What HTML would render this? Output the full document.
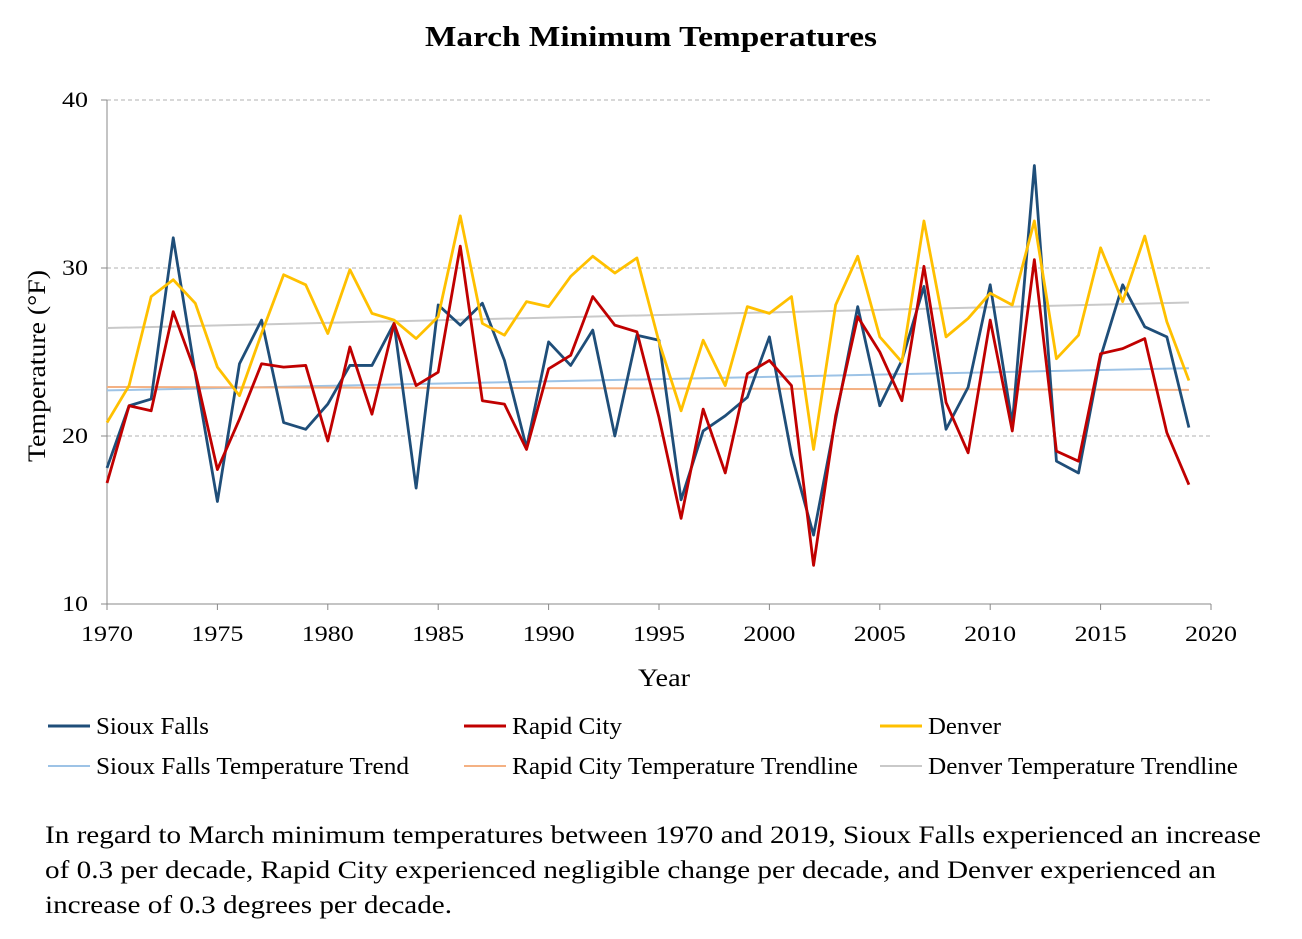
<!DOCTYPE html>
<html><head><meta charset="utf-8"><style>
body{margin:0;background:#fff;width:1302px;height:939px;overflow:hidden;font-family:"Liberation Serif",serif;}
</style></head><body>
<svg id="chart" width="1302" height="939" style="position:absolute;left:0;top:0" font-family="Liberation Serif, serif">
<text x="425" y="46" font-size="29" font-weight="bold" textLength="452" lengthAdjust="spacingAndGlyphs">March Minimum Temperatures</text>
<text transform="translate(45,366) rotate(-90)" text-anchor="middle" font-size="25" textLength="192" lengthAdjust="spacingAndGlyphs">Temperature (°F)</text>
<text x="638" y="686" font-size="25" textLength="52" lengthAdjust="spacingAndGlyphs">Year</text>
<g id="grid"></g><g id="axes"></g><g id="series"></g><g id="legend"></g>
<g font-size="25">
<text x="45" y="843" textLength="1216" lengthAdjust="spacingAndGlyphs">In regard to March minimum temperatures between 1970 and 2019, Sioux Falls experienced an increase</text>
<text x="45" y="878" textLength="1171" lengthAdjust="spacingAndGlyphs">of 0.3 per decade, Rapid City experienced negligible change per decade, and Denver experienced an</text>
<text x="45" y="913" textLength="407" lengthAdjust="spacingAndGlyphs">increase of 0.3 degrees per decade.</text>
</g>
</svg>
<script>
const years=[];for(let y=1970;y<=2019;y++)years.push(y);
const siouxFalls=[18.1,21.8,22.2,31.8,23.7,16.1,24.3,26.9,20.8,20.4,21.9,24.2,24.2,26.7,16.9,27.8,26.6,27.9,24.5,19.3,25.6,24.2,26.3,20.0,26.0,25.7,16.2,20.3,21.2,22.3,25.9,18.9,14.1,21.0,27.7,21.8,24.5,28.9,20.4,22.9,29.0,20.7,36.1,18.5,17.8,24.7,29.0,26.5,25.9,20.5];
const rapidCity=[17.2,21.8,21.5,27.4,23.8,18.0,21.0,24.3,24.1,24.2,19.7,25.3,21.3,26.7,23.0,23.8,31.3,22.1,21.9,19.2,24.0,24.8,28.3,26.6,26.2,21.1,15.1,21.6,17.8,23.7,24.5,23.0,12.3,21.2,27.1,25.0,22.1,30.1,22.0,19.0,26.9,20.3,30.5,19.1,18.5,24.9,25.2,25.8,20.2,17.1];
const denver=[20.8,23.0,28.3,29.3,27.9,24.1,22.4,26.1,29.6,29.0,26.1,29.9,27.3,26.9,25.8,27.1,33.1,26.7,26.0,28.0,27.7,29.5,30.7,29.7,30.6,25.6,21.5,25.7,23.0,27.7,27.3,28.3,19.2,27.8,30.7,25.9,24.4,32.8,25.9,27.0,28.5,27.8,32.8,24.6,26.0,31.2,28.0,31.9,26.8,23.3];
const yTicks=[10,20,30,40];
const xTicks=[1970,1975,1980,1985,1990,1995,2000,2005,2010,2015,2020];
const L=107,R=1211,T=100,B=604;
const xs=v=>L+(v-1970)/50*(R-L);
const ys=v=>B-(v-10)/30*(B-T);
const NS='http://www.w3.org/2000/svg';
function mk(tag,attrs,parent){const e=document.createElementNS(NS,tag);for(const k in attrs)e.setAttribute(k,attrs[k]);parent.appendChild(e);return e;}
const grid=document.getElementById('grid'),axes=document.getElementById('axes'),ser=document.getElementById('series'),leg=document.getElementById('legend');
yTicks.forEach(t=>{
 if(t>10){const g=mk('line',{x1:L,x2:R,y1:ys(t),y2:ys(t),stroke:'#b0b0b0','stroke-dasharray':'4,3','stroke-width':1},grid);
 
 }
 const tk=mk('line',{x1:L-6,x2:L,y1:ys(t),y2:ys(t),stroke:'#888'},axes);
 
 
 const tx=mk('text',{x:L-19-26,y:ys(t)+7,'font-size':22,textLength:26,lengthAdjust:'spacingAndGlyphs'},axes);tx.textContent=t;
 
 
});
xTicks.forEach(t=>{
 const tk=mk('line',{x1:xs(t),x2:xs(t),y1:B,y2:B+6,stroke:'#888'},axes);
 
 
 const tx=mk('text',{x:xs(t)-26,y:B+37,'font-size':22,textLength:52,lengthAdjust:'spacingAndGlyphs'},axes);tx.textContent=t;
 
 
});
const ya=mk('line',{x1:L,x2:L,y1:T,y2:B,stroke:'#888'},axes);


const xa=mk('line',{x1:L,x2:R,y1:B,y2:B,stroke:'#888'},axes);


function trend(d){const n=d.length;let sx=0,sy=0,sxy=0,sxx=0;d.forEach((v,i)=>{sx+=i;sy+=v;sxy+=i*v;sxx+=i*i;});const b=(n*sxy-sx*sy)/(n*sxx-sx*sx);const a=(sy-b*sx)/n;return [a,a+b*(n-1)];}
const series=[
 {d:siouxFalls,c:'#1f4e79',tc:'#9dc3e6',n:'sioux-falls'},
 {d:rapidCity,c:'#c00000',tc:'#f4b183',n:'rapid-city'},
 {d:denver,c:'#ffc000',tc:'#c9c9c9',n:'denver'}];
series.forEach(s=>{
 const [a,b]=trend(s.d);
 const tl=mk('line',{x1:xs(1970),y1:ys(a),x2:xs(2019),y2:ys(b),stroke:s.tc,'stroke-width':2},ser);
 
 
});
series.forEach(s=>{
 const p=mk('polyline',{points:s.d.map((v,i)=>xs(years[i])+','+ys(v)).join(' '),fill:'none',stroke:s.c,'stroke-width':2.8,'stroke-linejoin':'round'},ser);
 
 
});
const legItems=[
 ['Sioux Falls','#1f4e79',3,48,726,113],['Rapid City','#c00000',3,464,726,110],['Denver','#ffc000',3,880,726,73],
 ['Sioux Falls Temperature Trend','#9dc3e6',2,48,766,313],['Rapid City Temperature Trendline','#f4b183',2,464,766,346],['Denver Temperature Trendline','#c9c9c9',2,880,766,310]];
legItems.forEach(it=>{
 const g=mk('g',{},leg);
 
 
 mk('line',{x1:it[3],x2:it[3]+42,y1:it[4],y2:it[4],stroke:it[1],'stroke-width':it[2]},g);
 const t=mk('text',{x:it[3]+48,y:it[4]+8,'font-size':24,textLength:it[5],lengthAdjust:'spacingAndGlyphs'},g);t.textContent=it[0];
});
</script>
</body></html>
